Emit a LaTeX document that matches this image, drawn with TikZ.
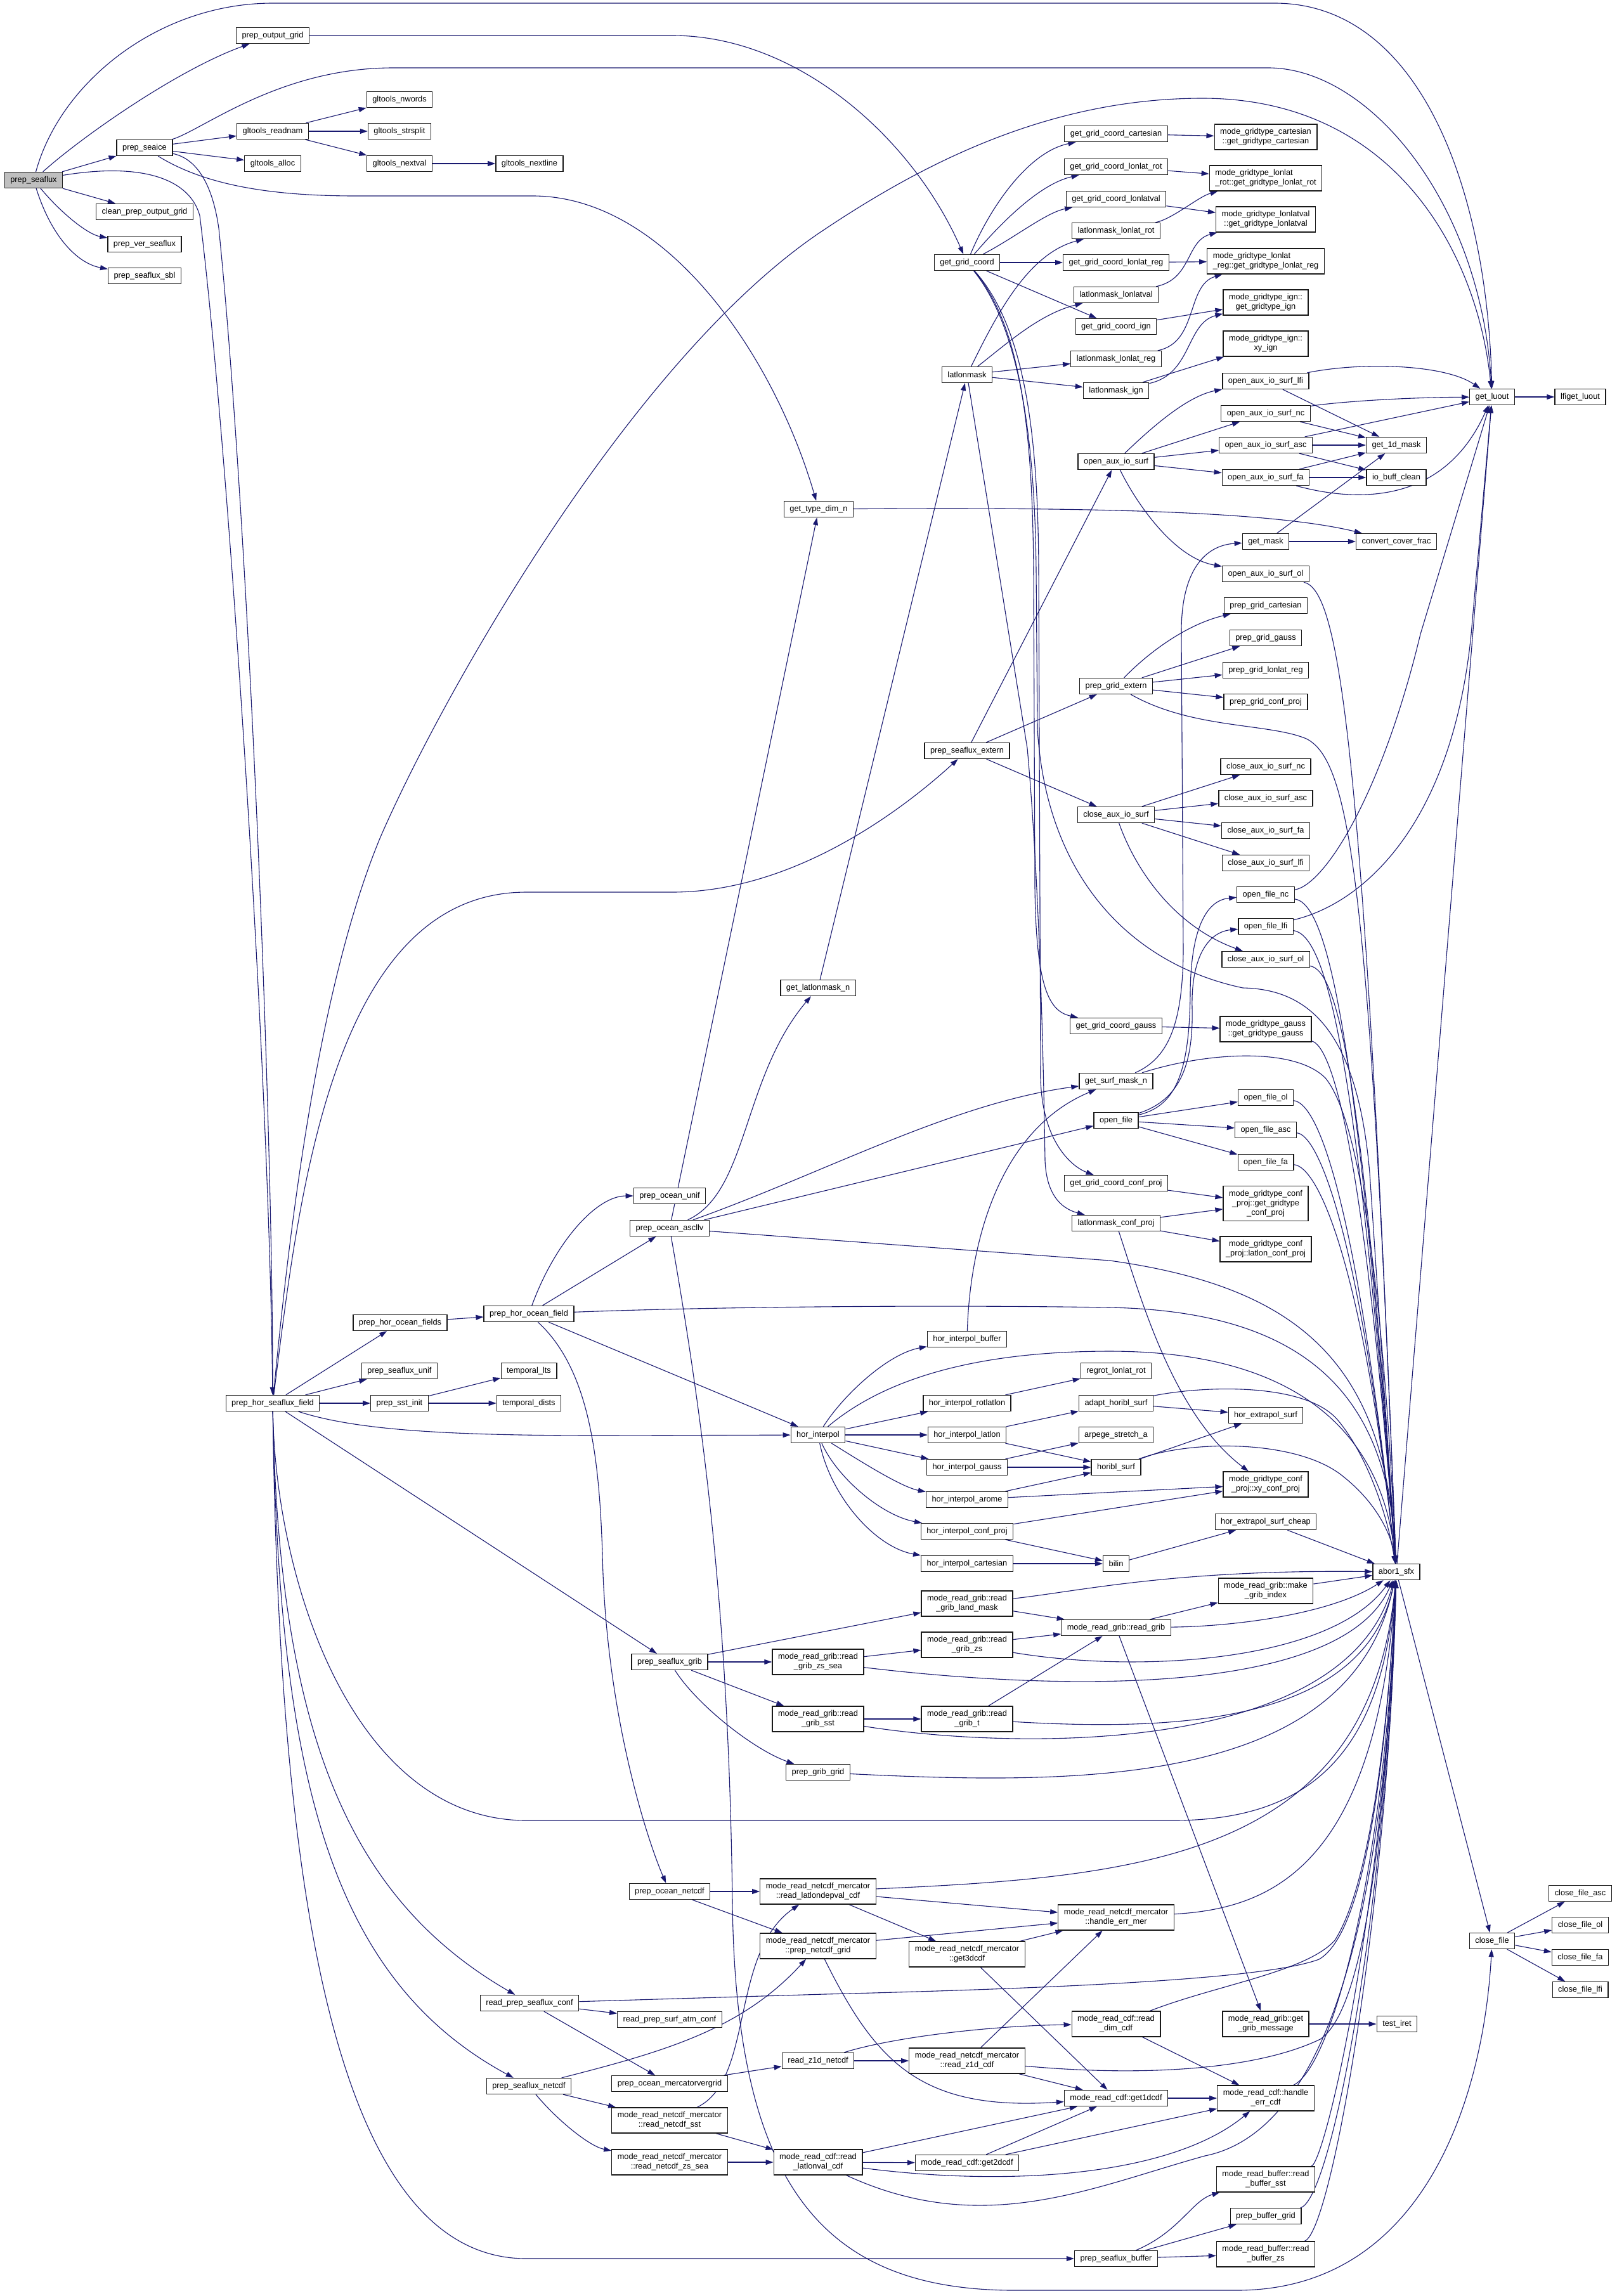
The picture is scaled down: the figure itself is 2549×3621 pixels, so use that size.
\documentclass[tikz,border=0pt]{standalone}
\usepackage{fontspec}
\setmainfont{Liberation Sans}
\usetikzlibrary{arrows.meta}
\definecolor{edgecol}{RGB}{25,25,112}
\pgfdeclarelayer{edgelayer}
\pgfsetlayers{edgelayer,main}
\begin{document}
\begin{tikzpicture}[x=1pt,y=-1pt,
  nd/.style={draw=black!90, line width=1.3pt, fill=white, font=\fontsize{12.8}{15}\selectfont, inner xsep=9pt, inner ysep=2pt, minimum height=25pt, align=center},
  nd2/.style={nd, minimum height=40pt},
  nd3/.style={nd, minimum height=55pt},
  e/.style={draw=edgecol, line width=1.1pt, -{Triangle[length=12pt,width=8pt]}}]
\useasboundingbox (0,0) rectangle (2549,3621);
% column 0-1
\node[nd, fill=black!25] (seaflux) at (53,284) {prep\_seaflux};
\node[nd] (seaice) at (228,233) {prep\_seaice};
\node[nd] (cleanpog) at (228,334) {clean\_prep\_output\_grid};
\node[nd] (versf) at (228,385) {prep\_ver\_seaflux};
\node[nd] (sfsbl) at (228,435) {prep\_seaflux\_sbl};
% column 2
\node[nd] (pog) at (430,56) {prep\_output\_grid};
\node[nd] (readnam) at (430,207) {gltools\_readnam};
\node[nd] (alloc) at (430,258) {gltools\_alloc};
\node[nd] (hsff) at (430,2213) {prep\_hor\_seaflux\_field};
% column 3
\node[nd] (nwords) at (630,157) {gltools\_nwords};
\node[nd] (strsplit) at (630,207) {gltools\_strsplit};
\node[nd] (nextval) at (630,258) {gltools\_nextval};
\node[nd] (hofs) at (631,2086) {prep\_hor\_ocean\_fields};
\node[nd] (sfunif) at (630,2162) {prep\_seaflux\_unif};
\node[nd] (sstinit) at (630,2213) {prep\_sst\_init};
% column 4
\node[nd] (nextline) at (835,258) {gltools\_nextline};
\node[nd] (hof) at (834,2072) {prep\_hor\_ocean\_field};
\node[nd] (tlts) at (834,2162) {temporal\_lts};
\node[nd] (tdists) at (834,2213) {temporal\_dists};
\node[nd] (rpsc) at (835,3159) {read\_prep\_seaflux\_conf};
\node[nd] (sfnc) at (834,3290) {prep\_seaflux\_netcdf};
% column 5
\node[nd] (ounif) at (1056,1886) {prep\_ocean\_unif};
\node[nd] (ascllv) at (1056,1937) {prep\_ocean\_ascllv};
\node[nd] (sfgrib) at (1056,2621) {prep\_seaflux\_grib};
\node[nd] (oncdf) at (1056,2983) {prep\_ocean\_netcdf};
\node[nd] (rpsac) at (1056,3185) {read\_prep\_surf\_atm\_conf};
\node[nd] (omvg) at (1056,3286) {prep\_ocean\_mercatorvergrid};
\node[nd2] (rnsst) at (1056,3344) {mode\_read\_netcdf\_mercator\\::read\_netcdf\_sst};
\node[nd2] (rnzs) at (1056,3410) {mode\_read\_netcdf\_mercator\\::read\_netcdf\_zs\_sea};
% column 6
\node[nd] (gtdn) at (1291,803) {get\_type\_dim\_n};
\node[nd] (glmn) at (1290,1558) {get\_latlonmask\_n};
\node[nd] (hi) at (1290,2263) {hor\_interpol};
\node[nd2] (rgzss) at (1290,2621) {mode\_read\_grib::read\\\_grib\_zs\_sea};
\node[nd2] (rgsst) at (1290,2711) {mode\_read\_grib::read\\\_grib\_sst};
\node[nd] (pgg) at (1290,2795) {prep\_grib\_grid};
\node[nd2] (rldv) at (1290,2983) {mode\_read\_netcdf\_mercator\\::read\_latlondepval\_cdf};
\node[nd2] (pncg) at (1290,3069) {mode\_read\_netcdf\_mercator\\::prep\_netcdf\_grid};
\node[nd] (rz1d) at (1290,3250) {read\_z1d\_netcdf};
\node[nd2] (rlv) at (1290,3410) {mode\_read\_cdf::read\\\_latlonval\_cdf};
% column 7
\node[nd] (ggc) at (1525,414) {get\_grid\_coord};
\node[nd] (llm) at (1525,591) {latlonmask};
\node[nd] (sfext) at (1525,1184) {prep\_seaflux\_extern};
\node[nd] (hib) at (1525,2112) {hor\_interpol\_buffer};
\node[nd] (hirot) at (1525,2213) {hor\_interpol\_rotlatlon};
\node[nd] (hill) at (1525,2263) {hor\_interpol\_latlon};
\node[nd] (higa) at (1525,2314) {hor\_interpol\_gauss};
\node[nd] (hiar) at (1525,2365) {hor\_interpol\_arome};
\node[nd] (hicp) at (1525,2415) {hor\_interpol\_conf\_proj};
\node[nd] (hica) at (1525,2466) {hor\_interpol\_cartesian};
\node[nd2] (rglm) at (1525,2529) {mode\_read\_grib::read\\\_grib\_land\_mask};
\node[nd2] (rgzs) at (1525,2594) {mode\_read\_grib::read\\\_grib\_zs};
\node[nd2] (rgt) at (1525,2711) {mode\_read\_grib::read\\\_grib\_t};
\node[nd2] (g3d) at (1525,3082) {mode\_read\_netcdf\_mercator\\::get3dcdf};
\node[nd2] (rz1dc) at (1525,3250) {mode\_read\_netcdf\_mercator\\::read\_z1d\_cdf};
\node[nd] (g2d) at (1525,3411) {mode\_read\_cdf::get2dcdf};
% column 8
\node[nd] (ggcc) at (1760,211) {get\_grid\_coord\_cartesian};
\node[nd] (ggcr) at (1760,263) {get\_grid\_coord\_lonlat\_rot};
\node[nd] (ggcv) at (1760,314) {get\_grid\_coord\_lonlatval};
\node[nd] (llr) at (1760,364) {latlonmask\_lonlat\_rot};
\node[nd] (ggcl) at (1760,414) {get\_grid\_coord\_lonlat\_reg};
\node[nd] (llv) at (1760,465) {latlonmask\_lonlatval};
\node[nd] (ggci) at (1760,515) {get\_grid\_coord\_ign};
\node[nd] (lllr) at (1760,566) {latlonmask\_lonlat\_reg};
\node[nd] (lli) at (1760,616) {latlonmask\_ign};
\node[nd] (oais) at (1760,728) {open\_aux\_io\_surf};
\node[nd] (pge) at (1760,1082) {prep\_grid\_extern};
\node[nd] (cais) at (1760,1285) {close\_aux\_io\_surf};
\node[nd] (ggcg) at (1760,1618) {get\_grid\_coord\_gauss};
\node[nd] (gsm) at (1760,1705) {get\_surf\_mask\_n};
\node[nd] (of) at (1760,1767) {open\_file};
\node[nd] (ggcp) at (1760,1866) {get\_grid\_coord\_conf\_proj};
\node[nd] (llcp) at (1760,1929) {latlonmask\_conf\_proj};
\node[nd] (rll) at (1760,2162) {regrot\_lonlat\_rot};
\node[nd] (ahs) at (1760,2213) {adapt\_horibl\_surf};
\node[nd] (asa) at (1760,2263) {arpege\_stretch\_a};
\node[nd] (hs) at (1760,2314) {horibl\_surf};
\node[nd] (bilin) at (1760,2466) {bilin};
\node[nd] (rg) at (1760,2567) {mode\_read\_grib::read\_grib};
\node[nd2] (hem) at (1760,3024) {mode\_read\_netcdf\_mercator\\::handle\_err\_mer};
\node[nd2] (rdim) at (1760,3192) {mode\_read\_cdf::read\\\_dim\_cdf};
\node[nd] (g1d) at (1760,3309) {mode\_read\_cdf::get1dcdf};
\node[nd] (sfbuf) at (1760,3562) {prep\_seaflux\_buffer};
% column 9
\node[nd2] (mgcart) at (1996,216) {mode\_gridtype\_cartesian\\::get\_gridtype\_cartesian};
\node[nd2, align=left] (mgrot) at (1996,281) {mode\_gridtype\_lonlat\\\_rot::get\_gridtype\_lonlat\_rot};
\node[nd2] (mgval) at (1996,346) {mode\_gridtype\_lonlatval\\::get\_gridtype\_lonlatval};
\node[nd2, align=left] (mgreg) at (1996,412) {mode\_gridtype\_lonlat\\\_reg::get\_gridtype\_lonlat\_reg};
\node[nd2] (mgign) at (1996,477) {mode\_gridtype\_ign::\\get\_gridtype\_ign};
\node[nd2] (mgxy) at (1996,542) {mode\_gridtype\_ign::\\xy\_ign};
\node[nd] (oalfi) at (1996,601) {open\_aux\_io\_surf\_lfi};
\node[nd] (oanc) at (1996,652) {open\_aux\_io\_surf\_nc};
\node[nd] (oaasc) at (1996,702) {open\_aux\_io\_surf\_asc};
\node[nd] (oafa) at (1996,753) {open\_aux\_io\_surf\_fa};
\node[nd] (gmask) at (1996,854) {get\_mask};
\node[nd] (oaol) at (1996,905) {open\_aux\_io\_surf\_ol};
\node[nd] (pgcart) at (1996,955) {prep\_grid\_cartesian};
\node[nd] (pggauss) at (1996,1006) {prep\_grid\_gauss};
\node[nd] (pglr) at (1996,1057) {prep\_grid\_lonlat\_reg};
\node[nd] (pgcp) at (1996,1107) {prep\_grid\_conf\_proj};
\node[nd] (canc) at (1996,1209) {close\_aux\_io\_surf\_nc};
\node[nd] (caasc) at (1996,1259) {close\_aux\_io\_surf\_asc};
\node[nd] (cafa) at (1996,1310) {close\_aux\_io\_surf\_fa};
\node[nd] (calfi) at (1996,1361) {close\_aux\_io\_surf\_lfi};
\node[nd] (ofnc) at (1996,1411) {open\_file\_nc};
\node[nd] (oflfi) at (1996,1461) {open\_file\_lfi};
\node[nd] (caol) at (1996,1513) {close\_aux\_io\_surf\_ol};
\node[nd2] (mggauss) at (1996,1623) {mode\_gridtype\_gauss\\::get\_gridtype\_gauss};
\node[nd] (ofol) at (1996,1731) {open\_file\_ol};
\node[nd] (ofasc) at (1996,1782) {open\_file\_asc};
\node[nd] (offa) at (1996,1833) {open\_file\_fa};
\node[nd3] (mgcpg) at (1996,1898) {mode\_gridtype\_conf\\\_proj::get\_gridtype\\\_conf\_proj};
\node[nd2] (mgcpl) at (1996,1970) {mode\_gridtype\_conf\\\_proj::latlon\_conf\_proj};
\node[nd] (hes) at (1996,2232) {hor\_extrapol\_surf};
\node[nd2] (mgcpxy) at (1996,2341) {mode\_gridtype\_conf\\\_proj::xy\_conf\_proj};
\node[nd] (hesc) at (1996,2400) {hor\_extrapol\_surf\_cheap};
\node[nd2] (mgi) at (1996,2509) {mode\_read\_grib::make\\\_grib\_index};
\node[nd2] (ggm) at (1996,3192) {mode\_read\_grib::get\\\_grib\_message};
\node[nd2] (hec) at (1996,3309) {mode\_read\_cdf::handle\\\_err\_cdf};
\node[nd2] (rbsst) at (1996,3437) {mode\_read\_buffer::read\\\_buffer\_sst};
\node[nd] (pbg) at (1996,3495) {prep\_buffer\_grid};
\node[nd2] (rbzs) at (1996,3555) {mode\_read\_buffer::read\\\_buffer\_zs};
% column 10-12
\node[nd] (g1m) at (2202,702) {get\_1d\_mask};
\node[nd] (ibc) at (2202,753) {io\_buff\_clean};
\node[nd] (ccf) at (2202,854) {convert\_cover\_frac};
\node[nd] (abor) at (2202,2479) {abor1\_sfx};
\node[nd] (tiret) at (2203,3192) {test\_iret};
\node[nd] (luout) at (2353,626) {get\_luout};
\node[nd] (cf) at (2353,3061) {close\_file};
\node[nd] (lfil) at (2492,626) {lfiget\_luout};
\node[nd] (cfasc) at (2492,2986) {close\_file\_asc};
\node[nd] (cfol) at (2492,3036) {close\_file\_ol};
\node[nd] (cffa) at (2492,3087) {close\_file\_fa};
\node[nd] (cflfi) at (2492,3138) {close\_file\_lfi};

\begin{pgfonlayer}{edgelayer}
\fill[white] (0,0) rectangle (2549,3621);
% prep_seaflux
\draw[e] (seaflux) .. controls (95,130) and (250,5) .. (430,5) -- (2010,5) .. controls (2240,5) and (2345,300) .. (luout);
\draw[e] (seaflux) .. controls (130,215) and (280,110) .. (pog);
\draw[e] (seaflux) -- (seaice);
\draw[e] (seaflux) -- (cleanpog);
\draw[e] (seaflux) .. controls (100,340) and (140,370) .. (versf);
\draw[e] (seaflux) .. controls (80,370) and (120,415) .. (sfsbl);
\draw[e] (seaflux) .. controls (230,255) and (300,285) .. (315,340) .. controls (360,700) and (425,1700) .. (hsff);
% prep_seaice
\draw[e] (seaice) .. controls (310,250) and (335,290) .. (345,360) .. controls (390,800) and (430,1750) .. (hsff);
\draw[e] (seaice) .. controls (320,205) and (440,107) .. (620,107) -- (2000,107) .. controls (2160,107) and (2335,320) .. (luout);
\draw[e] (seaice) -- (readnam);
\draw[e] (seaice) -- (alloc);
\draw[e] (seaice) .. controls (320,290) and (420,309) .. (560,309) -- (840,309) .. controls (1050,309) and (1220,560) .. (gtdn);
\draw[e] (readnam) -- (nwords);
\draw[e] (readnam) -- (strsplit);
\draw[e] (readnam) -- (nextval);
\draw[e] (nextval) -- (nextline);
\draw[e] (pog) -- (1060,56) .. controls (1260,56) and (1440,220) .. (ggc);
% prep_hor_seaflux_field
\draw[e] (hsff) .. controls (455,1950) and (500,1560) .. (600,1320) .. controls (700,1090) and (1000,560) .. (1300,362) .. controls (1450,262) and (1650,155) .. (1896,155) .. controls (2200,155) and (2330,400) .. (luout);
\draw[e] (hsff) .. controls (470,1900) and (520,1407) .. (830,1407) -- (1060,1407) .. controls (1250,1407) and (1420,1280) .. (sfext);
\draw[e] (hsff) -- (hofs);
\draw[e] (hsff) -- (sfunif);
\draw[e] (hsff) -- (sstinit);
\draw[e] (hsff) .. controls (560,2255) and (700,2264) .. (950,2264) -- (hi);
\draw[e] (hsff) -- (sfgrib);
\draw[e] (hsff) .. controls (435,2500) and (560,2871) .. (830,2871) -- (1850,2871) .. controls (2080,2871) and (2180,2750) .. (abor);
\draw[e] (hsff) .. controls (440,2750) and (560,3000) .. (rpsc);
\draw[e] (hsff) .. controls (440,2800) and (520,3120) .. (sfnc);
\draw[e] (hsff) .. controls (440,2950) and (520,3562) .. (830,3562) -- (sfbuf);
\draw[e] (hofs) -- (hof);
\draw[e] (sstinit) -- (tlts);
\draw[e] (sstinit) -- (tdists);
% prep_hor_ocean_field
\draw[e] (hof) .. controls (875,1960) and (940,1886) .. (ounif);
\draw[e] (hof) -- (ascllv);
\draw[e] (hof) .. controls (1150,2060) and (1500,2058) .. (1750,2062) .. controls (2060,2068) and (2190,2200) .. (abor);
\draw[e] (hof) -- (hi);
\draw[e] (hof) .. controls (930,2160) and (945,2300) .. (950,2450) .. controls (955,2700) and (1020,2900) .. (oncdf);
% prep_ocean_ascllv
\draw[e] (ascllv) -- (gtdn);
\draw[e] (ascllv) .. controls (1180,1880) and (1170,1700) .. (glmn);
\draw[e] (ascllv) .. controls (1300,1850) and (1500,1740) .. (gsm);
\draw[e] (ascllv) -- (of);
\draw[e] (ascllv) -- (1750,1988) .. controls (2050,2030) and (2185,2150) .. (abor);
\draw[e] (ascllv) .. controls (1120,2300) and (1150,2600) .. (1155,3000) .. controls (1160,3450) and (1300,3612) .. (1600,3612) -- (1950,3612) .. controls (2250,3612) and (2340,3300) .. (cf);
% prep_seaflux_grib
\draw[e] (sfgrib) -- (rglm);
\draw[e] (sfgrib) -- (rgzss);
\draw[e] (sfgrib) -- (rgsst);
\draw[e] (sfgrib) .. controls (1100,2690) and (1190,2760) .. (pgg);
% hor_interpol
\draw[e] (hi) .. controls (1330,2200) and (1400,2135) .. (hib);
\draw[e] (hi) .. controls (1400,2170) and (1550,2131) .. (1750,2131) .. controls (2090,2131) and (2185,2300) .. (abor);
\draw[e] (hi) -- (hirot);
\draw[e] (hi) -- (hill);
\draw[e] (hi) -- (higa);
\draw[e] (hi) .. controls (1350,2300) and (1420,2345) .. (hiar);
\draw[e] (hi) .. controls (1320,2330) and (1390,2390) .. (hicp);
\draw[e] (hi) .. controls (1310,2360) and (1380,2440) .. (hica);
\draw[e] (hirot) -- (rll);
\draw[e] (hill) -- (ahs);
\draw[e] (hill) -- (hs);
\draw[e] (higa) -- (asa);
\draw[e] (higa) -- (hs);
\draw[e] (hiar) -- (hs);
\draw[e] (hiar) -- (mgcpxy);
\draw[e] (hicp) -- (mgcpxy);
\draw[e] (hicp) -- (bilin);
\draw[e] (hica) -- (bilin);
\draw[e] (ahs) -- (hes);
\draw[e] (ahs) .. controls (1900,2185) and (2060,2180) .. (2110,2240) .. controls (2160,2300) and (2190,2400) .. (abor);
\draw[e] (hs) -- (hes);
\draw[e] (hs) .. controls (1880,2270) and (2050,2270) .. (2120,2330) .. controls (2170,2370) and (2195,2420) .. (abor);
\draw[e] (bilin) -- (hesc);
\draw[e] (hesc) -- (abor);
\draw[e] (hib) .. controls (1530,1950) and (1580,1780) .. (gsm);
% grib
\draw[e] (rglm) .. controls (1700,2510) and (1850,2475) .. (abor);
\draw[e] (rglm) -- (rg);
\draw[e] (rgzs) -- (rg);
\draw[e] (rgzs) .. controls (1800,2640) and (2100,2620) .. (abor);
\draw[e] (rgzss) -- (rgzs);
\draw[e] (rgzss) .. controls (1700,2670) and (2120,2670) .. (abor);
\draw[e] (rgsst) -- (rgt);
\draw[e] (rgsst) .. controls (1600,2760) and (2120,2770) .. (abor);
\draw[e] (rgt) .. controls (1850,2730) and (2150,2720) .. (abor);
\draw[e] (rgt) -- (rg);
\draw[e] (rg) -- (mgi);
\draw[e] (rg) .. controls (1950,2565) and (2100,2545) .. (abor);
\draw[e] (rg) -- (ggm);
\draw[e] (mgi) -- (abor);
\draw[e] (pgg) .. controls (1700,2815) and (2130,2820) .. (abor);
\draw[e] (ggm) -- (tiret);
% netcdf
\draw[e] (oncdf) -- (rldv);
\draw[e] (oncdf) -- (pncg);
\draw[e] (rldv) .. controls (1800,2960) and (2160,2930) .. (abor);
\draw[e] (rldv) -- (hem);
\draw[e] (rldv) -- (g3d);
\draw[e] (pncg) -- (hem);
\draw[e] (pncg) .. controls (1380,3250) and (1450,3330) .. (g1d);
\draw[e] (g3d) -- (hem);
\draw[e] (g3d) -- (g1d);
\draw[e] (hem) .. controls (2000,3010) and (2170,2950) .. (abor);
\draw[e] (rpsc) -- (1300,3145) .. controls (1700,3135) and (2000,3120) .. (2080,3090) .. controls (2150,3050) and (2185,2800) .. (abor);
\draw[e] (rpsc) -- (rpsac);
\draw[e] (rpsc) -- (omvg);
\draw[e] (sfnc) .. controls (1050,3235) and (1170,3200) .. (pncg);
\draw[e] (sfnc) -- (rnsst);
\draw[e] (sfnc) .. controls (880,3345) and (930,3385) .. (rnzs);
\draw[e] (omvg) -- (rz1d);
\draw[e] (rz1d) .. controls (1400,3215) and (1550,3195) .. (rdim);
\draw[e] (rz1d) -- (rz1dc);
\draw[e] (rz1dc) -- (hem);
\draw[e] (rz1dc) -- (g1d);
\draw[e] (rz1dc) .. controls (1800,3275) and (1980,3265) .. (2082,3216) .. controls (2150,3170) and (2185,2900) .. (abor);
\draw[e] (rdim) .. controls (1920,3130) and (2060,3110) .. (2105,3060) .. controls (2150,2990) and (2185,2800) .. (abor);
\draw[e] (rdim) -- (hec);
\draw[e] (rnsst) .. controls (1190,3280) and (1150,3080) .. (rldv);
\draw[e] (rnsst) -- (rlv);
\draw[e] (rnzs) -- (rlv);
\draw[e] (rlv) -- (g1d);
\draw[e] (rlv) -- (g2d);
\draw[e] (rlv) .. controls (1600,3450) and (1850,3430) .. (hec);
\draw[e] (rlv) .. controls (1550,3530) and (1720,3450) .. (1900,3400) .. controls (2100,3360) and (2185,3000) .. (abor);
\draw[e] (g2d) -- (g1d);
\draw[e] (g2d) -- (hec);
\draw[e] (g1d) -- (hec);
\draw[e] (hec) .. controls (2100,3260) and (2185,2950) .. (abor);
\draw[e] (rbsst) .. controls (2090,3410) and (2185,3000) .. (abor);
\draw[e] (pbg) .. controls (2100,3470) and (2188,3000) .. (abor);
\draw[e] (rbzs) .. controls (2100,3520) and (2190,3000) .. (abor);
\draw[e] (sfbuf) .. controls (1860,3520) and (1880,3470) .. (rbsst);
\draw[e] (sfbuf) -- (pbg);
\draw[e] (sfbuf) -- (rbzs);
\draw[e] (abor) -- (cf);
\draw[e] (cf) -- (cfasc);
\draw[e] (cf) -- (cfol);
\draw[e] (cf) -- (cffa);
\draw[e] (cf) -- (cflfi);
\draw[e] (abor) -- (luout);
% grid coords
\draw[e] (ggc) .. controls (1560,330) and (1620,240) .. (ggcc);
\draw[e] (ggc) .. controls (1580,350) and (1640,290) .. (ggcr);
\draw[e] (ggc) .. controls (1600,375) and (1650,335) .. (ggcv);
\draw[e] (ggc) -- (ggcl);
\draw[e] (ggc) -- (ggci);
\draw[e] (ggc) .. controls (1615,520) and (1628,700) .. (1630,900) -- (1632,1400) .. controls (1634,1560) and (1655,1595) .. (ggcg);
\draw[e] (ggc) .. controls (1620,520) and (1637,700) .. (1638,900) -- (1641,1700) .. controls (1643,1800) and (1690,1840) .. (ggcp);
\draw[e] (ggc) .. controls (1610,520) and (1632,700) .. (1634,900) -- (1636,1150) .. controls (1650,1380) and (1780,1520) .. (1960,1558) .. controls (2060,1560) and (2140,1620) .. (2160,1850) -- (abor);
\draw[e] (llm) .. controls (1570,500) and (1620,400) .. (llr);
\draw[e] (llm) .. controls (1590,540) and (1640,495) .. (llv);
\draw[e] (llm) -- (lllr);
\draw[e] (llm) -- (lli);
\draw[e] (llm) -- (1620,1180) .. controls (1640,1400) and (1646,1700) .. (1648,1830) .. controls (1650,1880) and (1670,1905) .. (llcp);
\draw[e] (glmn) -- (llm);
\draw[e] (ggcc) -- (mgcart);
\draw[e] (ggcr) -- (mgrot);
\draw[e] (ggcv) -- (mgval);
\draw[e] (ggcl) -- (mgreg);
\draw[e] (ggci) -- (mgign);
\draw[e] (llr) .. controls (1850,345) and (1890,310) .. (mgrot);
\draw[e] (llv) .. controls (1880,440) and (1870,380) .. (mgval);
\draw[e] (lllr) .. controls (1890,540) and (1870,450) .. (mgreg);
\draw[e] (lli) .. controls (1880,590) and (1870,510) .. (mgign);
\draw[e] (lli) -- (mgxy);
% aux io
\draw[e] (oais) .. controls (1810,680) and (1870,625) .. (oalfi);
\draw[e] (oais) -- (oanc);
\draw[e] (oais) -- (oaasc);
\draw[e] (oais) -- (oafa);
\draw[e] (oais) .. controls (1790,790) and (1850,880) .. (oaol);
\draw[e] (oalfi) .. controls (2150,570) and (2280,575) .. (luout);
\draw[e] (oalfi) -- (g1m);
\draw[e] (oanc) .. controls (2100,635) and (2200,627) .. (luout);
\draw[e] (oanc) -- (g1m);
\draw[e] (oaasc) -- (luout);
\draw[e] (oaasc) -- (g1m);
\draw[e] (oaasc) -- (ibc);
\draw[e] (oafa) -- (g1m);
\draw[e] (oafa) -- (ibc);
\draw[e] (oafa) .. controls (2150,795) and (2280,790) .. (luout);
\draw[e] (luout) -- (lfil);
\draw[e] (gmask) -- (ccf);
\draw[e] (gmask) -- (g1m);
\draw[e] (gtdn) .. controls (1700,800) and (2000,805) .. (ccf);
\draw[e] (oaol) .. controls (2110,930) and (2150,1150) .. (abor);
\draw[e] (pge) .. controls (1880,1150) and (2000,1140) .. (2060,1165) .. controls (2130,1200) and (2160,1400) .. (abor);
\draw[e] (pge) .. controls (1810,1030) and (1870,985) .. (pgcart);
\draw[e] (pge) -- (pggauss);
\draw[e] (pge) -- (pglr);
\draw[e] (pge) -- (pgcp);
\draw[e] (sfext) -- (pge);
\draw[e] (sfext) -- (cais);
\draw[e] (sfext) -- (oais);
\draw[e] (cais) -- (canc);
\draw[e] (cais) -- (caasc);
\draw[e] (cais) -- (cafa);
\draw[e] (cais) -- (calfi);
\draw[e] (cais) .. controls (1790,1370) and (1850,1460) .. (caol);
\draw[e] (caol) .. controls (2110,1530) and (2150,1700) .. (abor);
\draw[e] (ofnc) .. controls (2090,1395) and (2180,1250) .. (2240,1000) -- (luout);
\draw[e] (ofnc) .. controls (2090,1425) and (2140,1600) .. (abor);
\draw[e] (oflfi) .. controls (2150,1425) and (2290,1300) .. (2320,1000) -- (luout);
\draw[e] (oflfi) .. controls (2090,1475) and (2140,1650) .. (abor);
\draw[e] (mggauss) .. controls (2100,1650) and (2150,1800) .. (abor);
\draw[e] (gsm) .. controls (1840,1670) and (1865,1620) .. (1866,1500) -- (1863,1000) .. controls (1862,900) and (1900,860) .. (gmask);
\draw[e] (gsm) .. controls (1900,1660) and (2040,1650) .. (2090,1700) .. controls (2140,1760) and (2180,2000) .. (abor);
\draw[e] (of) .. controls (1850,1745) and (1876,1700) .. (1877,1565) .. controls (1878,1470) and (1900,1420) .. (ofnc);
\draw[e] (of) .. controls (1860,1735) and (1882,1680) .. (1880,1590) .. controls (1878,1510) and (1905,1470) .. (oflfi);
\draw[e] (of) -- (ofol);
\draw[e] (of) -- (ofasc);
\draw[e] (of) -- (offa);
\draw[e] (ofol) .. controls (2080,1740) and (2140,1900) .. (abor);
\draw[e] (ofasc) .. controls (2080,1790) and (2145,1950) .. (abor);
\draw[e] (offa) .. controls (2080,1840) and (2150,2000) .. (abor);
\draw[e] (ggcg) -- (mggauss);
\draw[e] (ggcp) -- (mgcpg);
\draw[e] (llcp) -- (mgcpg);
\draw[e] (llcp) -- (mgcpl);
\draw[e] (llcp) .. controls (1800,2050) and (1850,2230) .. (mgcpxy);
\end{pgfonlayer}
\end{tikzpicture}
\end{document}
